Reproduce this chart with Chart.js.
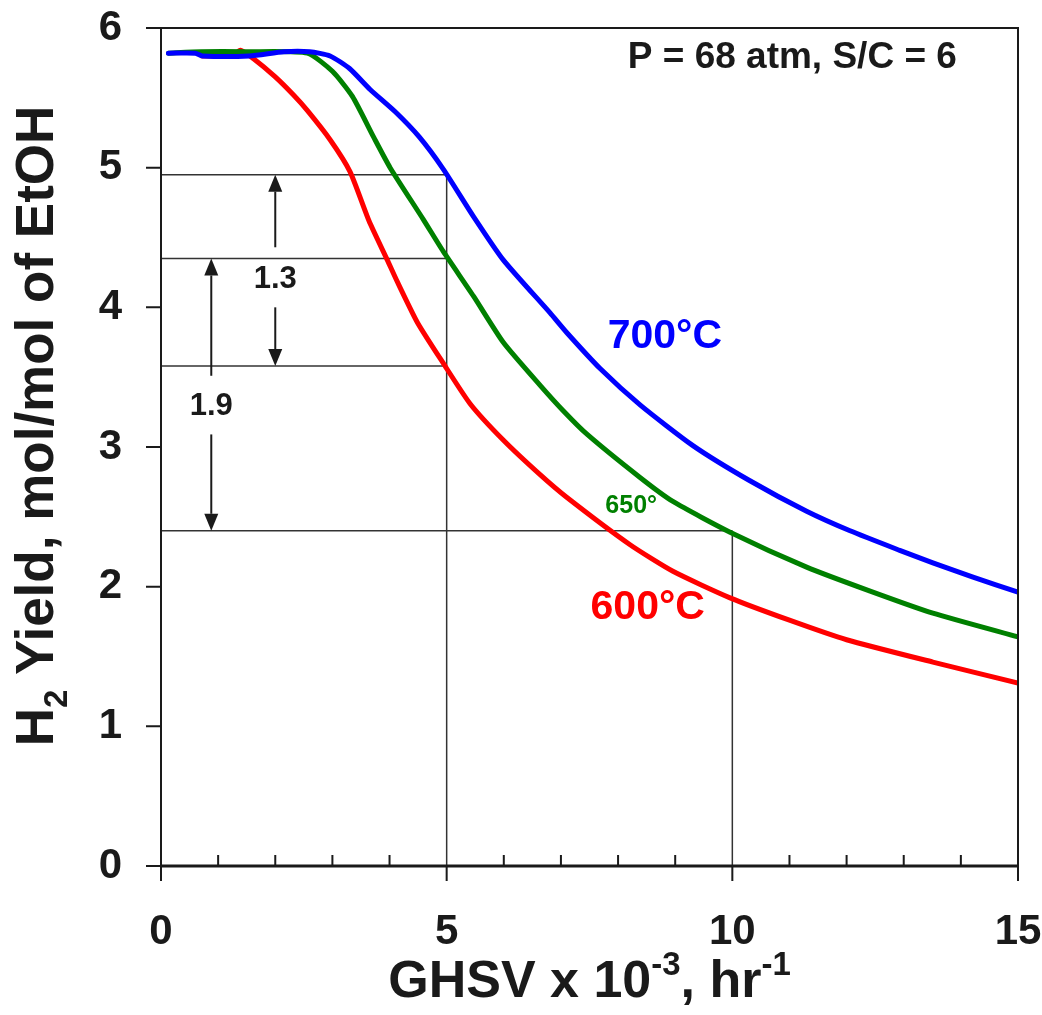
<!DOCTYPE html>
<html lang="en">
<head>
<meta charset="UTF-8">
<title>H2 Yield vs GHSV</title>
<script src="https://cdn.jsdelivr.net/npm/chart.js"></script>
<style>
    body { margin: 0; background: #fff; }
    #chart { display: block; }
</style>
</head>
<body>
<canvas id="chart" width="1042" height="1015"></canvas>
<script>
    // GHSV x 10^-3 (hr^-1) vs H2 yield (mol/mol of EtOH)
    const ghsv700 = [0.13, 0.6, 0.72, 1.55, 2.15, 2.6, 2.96, 3.3, 3.66, 4.1, 4.52, 4.94, 5.47, 5.99, 6.81, 7.1, 7.69, 8.39, 9.31, 10.3, 11.3, 12.06, 12.93, 13.51, 14.2, 15];
    const yield700 = [5.82, 5.82, 5.80, 5.80, 5.83, 5.83, 5.80, 5.71, 5.56, 5.40, 5.22, 4.99, 4.65, 4.34, 3.96, 3.82, 3.56, 3.30, 3.01, 2.76, 2.54, 2.40, 2.26, 2.17, 2.07, 1.96];

    const ghsv650 = [0.13, 0.7, 1.5, 2.56, 3.0, 3.35, 3.72, 4.01, 4.59, 4.94, 5.47, 5.99, 6.64, 7.04, 7.46, 8.39, 8.96, 9.96, 11.3, 12.4, 13.51, 15];
    const yield650 = [5.82, 5.83, 5.83, 5.82, 5.69, 5.51, 5.22, 5.00, 4.63, 4.40, 4.08, 3.75, 3.44, 3.26, 3.09, 2.78, 2.61, 2.39, 2.14, 1.97, 1.81, 1.64];

    const ghsv600 = [0.72, 1.25, 1.39, 1.62, 2.0, 2.32, 2.56, 2.96, 3.31, 3.64, 3.96, 4.14, 4.49, 4.94, 5.41, 5.99, 6.64, 7.1, 8.21, 8.96, 9.96, 11.0, 12.0, 13.51, 15];
    const yield600 = [5.80, 5.80, 5.84, 5.78, 5.65, 5.52, 5.41, 5.20, 4.97, 4.62, 4.34, 4.18, 3.89, 3.60, 3.31, 3.05, 2.80, 2.64, 2.30, 2.11, 1.92, 1.76, 1.62, 1.46, 1.31];

    // guide lines: yield levels and the GHSV where each stops
    const guideYields = [4.95, 4.35, 3.58, 2.40];
    const guideGhsvEnd = [5, 5, 5, 10];
    const dropGhsv = [5, 10];
    const dropTop = [4.95, 2.40];

    // difference arrows: x, shaft start, arrow tip
    const arrowX = [2.0, 2.0, 0.88, 0.88];
    const arrowFrom = [4.43, 4.0, 3.51, 3.09];
    const arrowTo = [4.95, 3.58, 4.35, 2.40];
    const diffLabels = ['1.3', '1.9'];
    const diffLabelX = [2.0, 0.88];
    const diffLabelY = [4.2, 3.29];

    const xTicks = [0, 5, 10, 15];
    const yTicks = [0, 1, 2, 3, 4, 5, 6];

    const FONT = 'Arial, "Liberation Sans", Helvetica, sans-serif';
    const INK = '#1a1a1a';

    function pts(xs, ys) {
        return xs.map((x, i) => ({ x: x, y: ys[i] }));
    }

    function curve(label, xs, ys, color) {
        return {
            label: label,
            data: pts(xs, ys),
            borderColor: color,
            borderWidth: 5,
            pointRadius: 0,
            tension: 0.2,
            borderCapStyle: 'round',
            borderJoinStyle: 'round'
        };
    }

    function guide(data) {
        return { data: data, borderColor: '#333', borderWidth: 1.5, pointRadius: 0, tension: 0 };
    }

    const datasets = [
        curve('700°C', ghsv700, yield700, '#0000ff'),
        curve('650°C', ghsv650, yield650, '#008000'),
        curve('600°C', ghsv600, yield600, '#ff0000')
    ];
    guideYields.forEach((v, i) => datasets.push(guide([{ x: 0, y: v }, { x: guideGhsvEnd[i], y: v }])));
    dropGhsv.forEach((v, i) => datasets.push(guide([{ x: v, y: 0 }, { x: v, y: dropTop[i] }])));

    // draws one line of text that has raised or lowered parts
    function richText(ctx, parts, cx, baseY) {
        let total = 0;
        parts.forEach(p => { ctx.font = p.font; total += ctx.measureText(p.t).width; });
        let x = cx - total / 2;
        ctx.textAlign = 'left';
        ctx.textBaseline = 'alphabetic';
        parts.forEach(p => {
            ctx.font = p.font;
            ctx.fillText(p.t, x, baseY + (p.dy || 0));
            x += ctx.measureText(p.t).width;
        });
    }

    const decor = {
        id: 'decor',
        afterDraw(chart) {
            const ctx = chart.ctx;
            const a = chart.chartArea;
            const xs = chart.scales.x, ys = chart.scales.y;
            ctx.save();
            ctx.strokeStyle = INK;
            ctx.fillStyle = INK;

            // frame
            ctx.lineWidth = 2;
            ctx.strokeRect(a.left, a.top, a.right - a.left, a.bottom - a.top);
            ctx.lineWidth = 3;
            ctx.beginPath();
            ctx.moveTo(a.left - 1, a.bottom);
            ctx.lineTo(a.right + 1, a.bottom);
            ctx.stroke();

            // tick marks
            ctx.lineWidth = 2;
            ctx.beginPath();
            for (let v = 0; v <= 15; v++) {
                const px = xs.getPixelForValue(v);
                if (xTicks.includes(v)) {
                    ctx.moveTo(px, a.bottom);
                    ctx.lineTo(px, a.bottom + 15);
                } else {
                    ctx.moveTo(px, a.bottom);
                    ctx.lineTo(px, a.bottom - 11);
                }
            }
            yTicks.forEach(v => {
                const py = ys.getPixelForValue(v);
                ctx.moveTo(a.left - 15, py);
                ctx.lineTo(a.left, py);
            });
            ctx.stroke();

            // arrows
            ctx.lineWidth = 2;
            arrowX.forEach((xv, i) => {
                const px = xs.getPixelForValue(xv);
                const p1 = ys.getPixelForValue(arrowFrom[i]);
                const p2 = ys.getPixelForValue(arrowTo[i]);
                const dir = p2 > p1 ? 1 : -1;
                const head = 17;
                ctx.beginPath();
                ctx.moveTo(px, p1);
                ctx.lineTo(px, p2 - dir * head);
                ctx.stroke();
                ctx.beginPath();
                ctx.moveTo(px, p2);
                ctx.lineTo(px - 7, p2 - dir * head);
                ctx.lineTo(px + 7, p2 - dir * head);
                ctx.closePath();
                ctx.fill();
            });

            // annotation text
            ctx.textAlign = 'center';
            ctx.textBaseline = 'middle';
            ctx.font = 'bold 31px ' + FONT;
            diffLabels.forEach((t, i) => {
                ctx.fillText(t, xs.getPixelForValue(diffLabelX[i]), ys.getPixelForValue(diffLabelY[i]));
            });

            const notes = [
                { t: 'P = 68 atm, S/C = 6', x: 11.05, y: 5.785, size: 37, color: INK },
                { t: '700°C', x: 8.82, y: 3.79, size: 41, color: '#0000ff' },
                { t: '650°', x: 8.23, y: 2.58, size: 25, color: '#008000' },
                { t: '600°C', x: 8.52, y: 1.85, size: 41, color: '#ff0000' }
            ];
            notes.forEach(n => {
                ctx.font = 'bold ' + n.size + 'px ' + FONT;
                ctx.fillStyle = n.color;
                ctx.fillText(n.t, xs.getPixelForValue(n.x), ys.getPixelForValue(n.y));
            });

            // axis titles
            ctx.fillStyle = INK;
            const big = 'bold 52px ' + FONT;
            const sup = 'bold 33px ' + FONT;
            richText(ctx, [
                { t: 'GHSV x 10', font: big },
                { t: '-3', font: sup, dy: -22 },
                { t: ', hr', font: big },
                { t: '-1', font: sup, dy: -22 }
            ], (a.left + a.right) / 2, 997);

            ctx.save();
            ctx.translate(53, 426);
            ctx.rotate(-Math.PI / 2);
            const yBig = 'bold 53px ' + FONT;
            richText(ctx, [
                { t: 'H', font: yBig },
                { t: '2', font: 'bold 33px ' + FONT, dy: 14 },
                { t: ' Yield, mol/mol of EtOH', font: yBig }
            ], 0, 0);
            ctx.restore();

            ctx.restore();
        }
    };

    new Chart(document.getElementById('chart'), {
        type: 'line',
        data: { datasets: datasets },
        options: {
            responsive: false,
            animation: false,
            events: [],
            devicePixelRatio: 1,
            layout: { padding: { top: 28, right: 24, left: 0, bottom: 0 } },
            plugins: {
                legend: { display: false },
                tooltip: { enabled: false }
            },
            scales: {
                x: {
                    type: 'linear',
                    min: 0,
                    max: 15,
                    afterFit: s => {
                        s.height = 149;
                        s.paddingLeft = 0;
                        s.paddingRight = 0;
                    },
                    afterBuildTicks: s => { s.ticks = xTicks.map(v => ({ value: v })); },
                    grid: { display: false, drawTicks: false },
                    border: { display: false },
                    ticks: {
                        padding: 41,
                        maxRotation: 0,
                        autoSkip: false,
                        color: INK,
                        font: { family: FONT, size: 42, weight: 'bold' }
                    }
                },
                y: {
                    type: 'linear',
                    min: 0,
                    max: 6,
                    afterFit: s => {
                        s.width = 161;
                        s.paddingTop = 0;
                        s.paddingBottom = 0;
                    },
                    afterBuildTicks: s => { s.ticks = yTicks.map(v => ({ value: v })); },
                    grid: { display: false, drawTicks: false },
                    border: { display: false },
                    ticks: {
                        padding: 39,
                        autoSkip: false,
                        color: INK,
                        font: { family: FONT, size: 42, weight: 'bold' }
                    }
                }
            }
        },
        plugins: [decor]
    });
</script>
</body>
</html>
